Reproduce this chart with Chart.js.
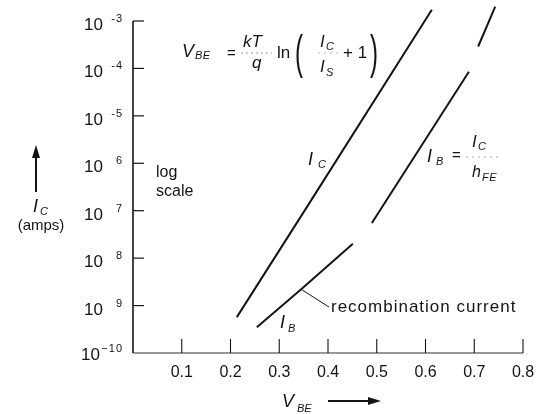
<!DOCTYPE html>
<html>
<head>
<meta charset="utf-8">
<script src="https://cdn.jsdelivr.net/npm/chart.js@4.4.1/dist/chart.umd.min.js"></script>
<style>
html,body{margin:0;padding:0;background:#fff;}
#wrap{position:relative;width:541px;height:414px;}
</style>
</head>
<body>
<div id="wrap"><canvas id="c"></canvas></div>
<script>
// ---- data ----
const xTicks = [0.1, 0.2, 0.3, 0.4, 0.5, 0.6, 0.7, 0.8];
const xTickLabels = ['0.1', '0.2', '0.3', '0.4', '0.5', '0.6', '0.7', '0.8'];
const yTicks = [1e-3, 1e-4, 1e-5, 1e-6, 1e-7, 1e-8, 1e-9, 1e-10];
const yTickBase = ['10', '10', '10', '10', '10', '10', '10', '10'];
const yTickExps = ['-3', '-4', '-5', '6', '7', '8', '9', '\u221210'];

// collector current I_C vs V_BE
const icV = [0.213, 0.353, 0.613];
const icI = [5.7e-10, 1.04e-7, 1.72e-3];
// base current: recombination part
const ibRecV = [0.254, 0.345, 0.451];
const ibRecI = [3.5e-10, 2.2e-9, 2.0e-8];
// base current I_B = I_C / h_FE
const ibMidV = [0.490, 0.689];
const ibMidI = [5.5e-8, 8.5e-5];
const ibTopV = [0.708, 0.743];
const ibTopI = [2.9e-4, 2.0e-3];

const FONT = '"Liberation Sans", Arial, Helvetica, sans-serif';
const INK = '#141414';

function pts(xs, ys) { return xs.map((v, i) => ({ x: v, y: ys[i] })); }
function lineDs(xs, ys) {
  return { data: pts(xs, ys), showLine: true, borderColor: INK, borderWidth: 2,
           pointRadius: 0, fill: false, clip: false, tension: 0 };
}

function txt(ctx, s, x, y, size, italic, align, spacing) {
  ctx.save();
  ctx.font = (italic ? 'italic ' : '') + size + 'px ' + FONT;
  ctx.textAlign = align || 'left';
  ctx.textBaseline = 'alphabetic';
  ctx.fillStyle = INK;
  if (spacing) ctx.letterSpacing = spacing;
  ctx.fillText(s, x, y);
  ctx.restore();
}
function tallTxt(ctx, s, x, y, size, sy) {
  ctx.save();
  ctx.translate(x, y);
  ctx.scale(1, sy);
  ctx.font = size + 'px ' + FONT;
  ctx.textAlign = 'left';
  ctx.textBaseline = 'alphabetic';
  ctx.fillStyle = INK;
  ctx.fillText(s, 0, 0);
  ctx.restore();
}
function seg(ctx, x1, y1, x2, y2, w, col, dash) {
  ctx.save();
  ctx.beginPath();
  ctx.lineWidth = w; ctx.strokeStyle = col || INK;
  ctx.setLineDash(dash || []);
  ctx.moveTo(x1, y1); ctx.lineTo(x2, y2); ctx.stroke();
  ctx.restore();
}
function arrowHead(ctx, x, y, dir) {
  ctx.beginPath();
  ctx.fillStyle = INK;
  if (dir === 'up') { ctx.moveTo(x, y); ctx.lineTo(x - 4, y + 13); ctx.lineTo(x + 4, y + 13); }
  else { ctx.moveTo(x, y); ctx.lineTo(x - 13, y - 4); ctx.lineTo(x - 13, y + 4); }
  ctx.closePath(); ctx.fill();
}

const annotate = {
  id: 'annotate',
  afterDatasetsDraw(chart) {
    const ctx = chart.ctx;
    const xs = chart.scales.x, ys = chart.scales.y;
    const x0 = xs.getPixelForValue(0), x1 = xs.getPixelForValue(0.8);
    const yb = ys.getPixelForValue(1e-10), yt = ys.getPixelForValue(1e-3);
    ctx.save();
    // axes
    seg(ctx, x0, yt, x0, yb, 1.6);
    seg(ctx, x0, yb, x1, yb, 1.2, '#333');
    // y ticks + labels
    yTicks.forEach((v, i) => {
      const p = ys.getPixelForValue(v);
      const last = i === yTicks.length - 1;
      if (!last) seg(ctx, x0, p, x0 + 11, p, 1.2);
      txt(ctx, yTickBase[i], x0 - (last ? 33 : 30), p + (last ? 7 : 9), 17, false, 'right');
      txt(ctx, yTickExps[i], x0 - 10, p + (last ? -1 : 1), 11, false, 'right', '1px');
    });
    // x ticks + labels
    xTicks.forEach((v, i) => {
      const p = xs.getPixelForValue(v);
      seg(ctx, p, yb, p, yb - 14, 1.1);
      txt(ctx, xTickLabels[i], p, yb + 24, 16, false, 'center');
    });
    // x-axis title
    txt(ctx, 'V', 282, 407, 18, true);
    txt(ctx, 'BE', 297, 412, 11, true);
    seg(ctx, 328, 401, 370, 401, 2);
    arrowHead(ctx, 381, 401, 'right');
    // y-axis title
    seg(ctx, 36, 155, 36, 192, 2);
    arrowHead(ctx, 36, 145, 'up');
    txt(ctx, 'I', 33, 212, 18, true);
    txt(ctx, 'C', 40, 215, 11, true);
    txt(ctx, '(amps)', 41, 230, 15, false, 'center');
    // log scale note
    txt(ctx, 'log', 156, 177, 16);
    txt(ctx, 'scale', 156, 196, 16);
    // equation V_BE = kT/q ln(Ic/Is + 1)
    txt(ctx, 'V', 182, 57, 18, true);
    txt(ctx, 'BE', 195, 59, 11, true, 'left', '0.5px');
    txt(ctx, '=', 227, 58, 15);
    txt(ctx, 'kT', 243, 47, 17, true);
    seg(ctx, 241, 53, 272, 53, 1, '#999', [2, 3]);
    txt(ctx, 'q', 252, 68, 17, true);
    txt(ctx, 'ln', 277, 58, 17);
    tallTxt(ctx, '(', 295, 68, 24, 1.95);
    txt(ctx, 'I', 320, 47, 17, true);
    txt(ctx, 'C', 326, 50, 11, true);
    seg(ctx, 318, 53, 338, 53, 1, '#bbb', [2, 4]);
    txt(ctx, 'I', 320, 72, 17, true);
    txt(ctx, 'S', 326, 76, 11, true);
    txt(ctx, '+ 1', 343, 58, 17);
    tallTxt(ctx, ')', 370, 68, 24, 1.95);
    // I_C label on line
    txt(ctx, 'I', 308, 165, 18, true);
    txt(ctx, 'C', 318, 168, 11, true);
    // I_B = I_C / h_FE
    txt(ctx, 'I', 427, 162, 18, true);
    txt(ctx, 'B', 436, 165, 11, true);
    txt(ctx, '=', 452, 160, 15);
    txt(ctx, 'I', 472, 147, 17, true);
    txt(ctx, 'C', 478, 150, 11, true);
    seg(ctx, 466, 157, 498, 157, 1, '#aaa', [2, 4]);
    txt(ctx, 'h', 472, 177, 16, true);
    txt(ctx, 'FE', 482, 181, 11, true, 'left', '0.5px');
    // I_B label near recombination line
    txt(ctx, 'I', 280, 328, 18, true);
    txt(ctx, 'B', 288, 332, 11, true);
    // recombination current leader + text
    const lx = xs.getPixelForValue(ibRecV[1]), ly = ys.getPixelForValue(ibRecI[1]);
    seg(ctx, lx, ly, 329, 307, 1);
    txt(ctx, 'recombination current', 331, 312, 17, false, 'left', '1px');
    ctx.restore();
  }
};

new Chart(document.getElementById('c'), {
  type: 'scatter',
  data: {
    datasets: [
      lineDs(icV, icI),
      lineDs(ibRecV, ibRecI),
      lineDs(ibMidV, ibMidI),
      lineDs(ibTopV, ibTopI)
    ]
  },
  options: {
    responsive: true,
    maintainAspectRatio: false,
    animation: false,
    layout: { padding: { left: 133, right: 18, top: 21, bottom: 61 } },
    plugins: { legend: { display: false }, tooltip: { enabled: false } },
    scales: {
      x: { type: 'linear', min: 0, max: 0.8, display: false },
      y: { type: 'logarithmic', min: 1e-10, max: 1e-3, display: false }
    }
  },
  plugins: [annotate]
});
</script>
</body>
</html>
